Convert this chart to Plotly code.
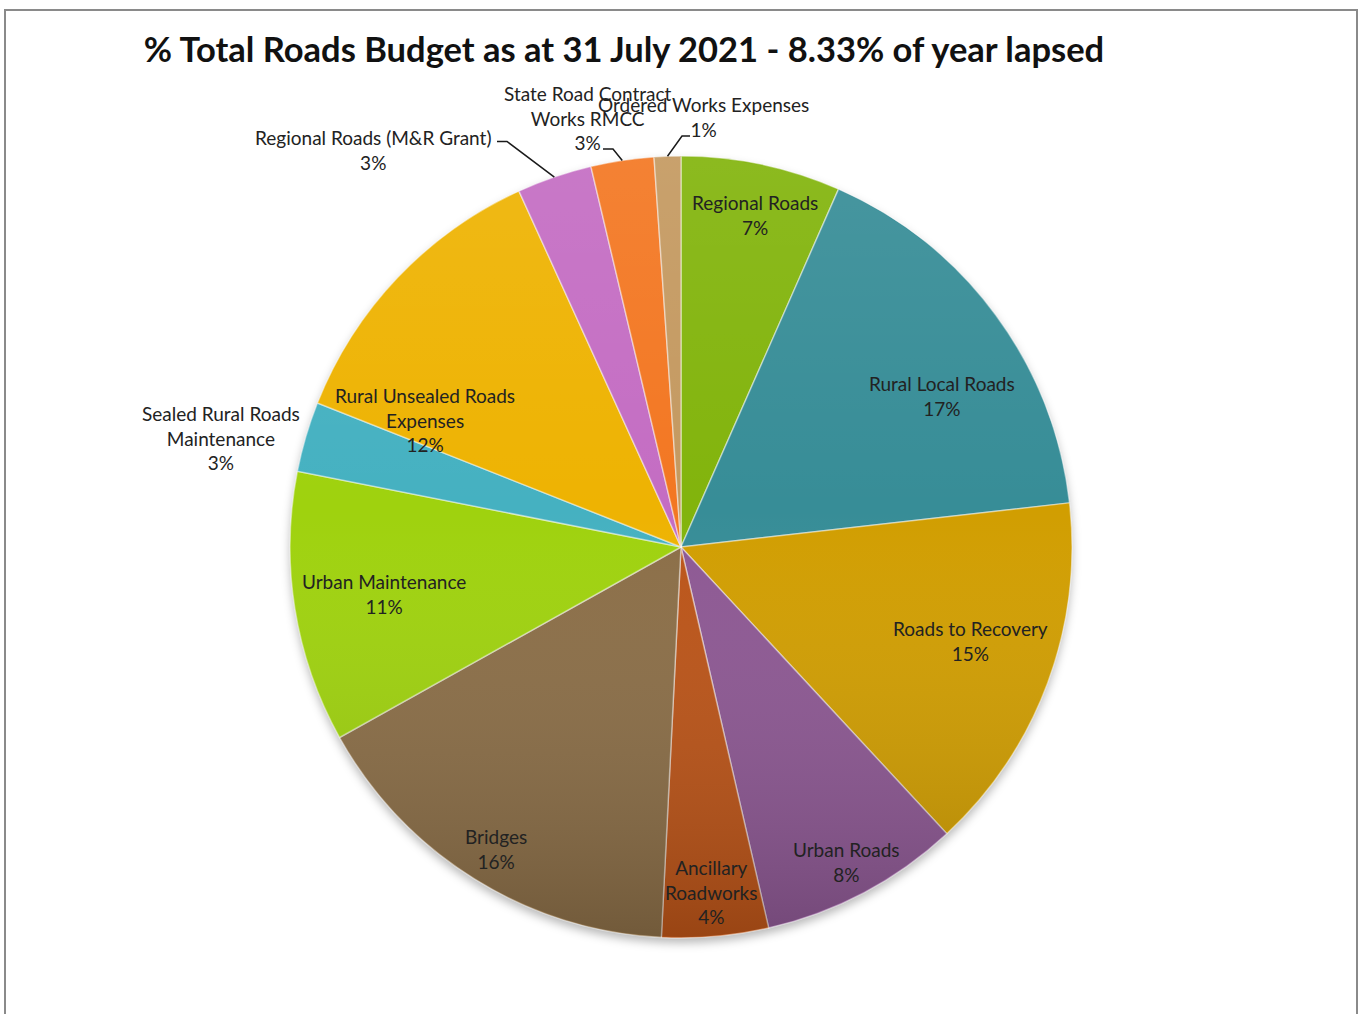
import base64
import math
import plotly.graph_objects as go

# ---- data -------------------------------------------------------------
categories = [
    "Regional Roads", "Rural Local Roads", "Roads to Recovery", "Urban Roads",
    "Ancillary Roadworks", "Bridges", "Urban Maintenance",
    "Sealed Rural Roads Maintenance", "Rural Unsealed Roads Expenses",
    "Regional Roads (M&R Grant)", "State Road Contract Works RMCC",
    "Ordered Works Expenses",
]
shares = [6.6, 16.6, 14.9, 8.3, 4.4, 16.1, 11.2, 2.9, 12.2, 3.1, 2.6, 1.1]
colors = [
    "#82b40c", "#378d97", "#d19e01", "#8d5893", "#bb5418", "#8b6e47",
    "#9fd20e", "#45b1c1", "#eeb302", "#c46dc3", "#f37722", "#c49960",
]

# line breaks used when printing the category names
wrapped = {
    "Ancillary Roadworks": "Ancillary<br>Roadworks",
    "Sealed Rural Roads Maintenance": "Sealed Rural Roads<br>Maintenance",
    "Rural Unsealed Roads Expenses": "Rural Unsealed Roads<br>Expenses",
    "State Road Contract Works RMCC": "State Road Contract<br>Works RMCC",
}

TITLE = "% Total Roads Budget as at 31 July 2021 - 8.33% of year lapsed"

# ---- geometry ---------------------------------------------------------
W, H = 1362, 1014
CX, CY, R = 681, 547, 391          # pie centre / radius in pixels
FONT = "Lato"

def px(x):
    return x / W

def py(y):
    return 1 - y / H

# label placement: (radius as a fraction of R, angular nudge in degrees)
label_place = [
    (0.87, 0.7), (0.77, 6.3), (0.78, -2.3), (0.91, 0.2),
    (0.886, 0.0), (0.906, -0.4), (0.77, 0.0), (1.21, -3.0),
    (0.73, -17.1), (1.286, -18.9), (1.123, -3.6), (1.10, 5.0),
]

total = sum(shares)
mid_angles = []
acc = 0.0
for v in shares:
    mid_angles.append((acc + v / 2) / total * 360.0)
    acc += v

def polar(angle_deg, r):
    a = math.radians(angle_deg)
    return CX + r * math.sin(a), CY - r * math.cos(a)

fig = go.Figure()

fig.add_trace(go.Pie(
    labels=categories,
    values=shares,
    sort=False,
    direction="clockwise",
    rotation=0,
    textinfo="none",
    hoverinfo="label+percent",
    marker=dict(colors=colors, line=dict(color="rgba(255,255,255,0.45)", width=1.5)),
    domain=dict(x=[px(CX - R), px(CX + R)], y=[py(CY + R), py(CY - R)]),
    showlegend=False,
))

# ---- shading overlays (soft drop shadow + top-to-bottom gradient) -----
D = 2 * R
shade_svg = (
    f"<svg xmlns='http://www.w3.org/2000/svg' width='{D}' height='{D}' viewBox='0 0 {D} {D}'>"
    "<defs><linearGradient id='g' x1='0' y1='0' x2='0' y2='1'>"
    "<stop offset='0' stop-color='#ffffff' stop-opacity='0.08'/>"
    "<stop offset='0.45' stop-color='#ffffff' stop-opacity='0'/>"
    "<stop offset='1' stop-color='#000000' stop-opacity='0.18'/>"
    "</linearGradient></defs>"
    f"<circle cx='{R}' cy='{R}' r='{R - 1}' fill='url(#g)'/></svg>"
)
PAD = 20
S = D + 2 * PAD
shadow_svg = (
    f"<svg xmlns='http://www.w3.org/2000/svg' width='{S}' height='{S}' viewBox='0 0 {S} {S}'>"
    "<defs><filter id='b' x='-10%' y='-10%' width='120%' height='120%'>"
    "<feGaussianBlur stdDeviation='5'/></filter></defs>"
    f"<circle cx='{PAD + R}' cy='{PAD + R + 5}' r='{R}' fill='#000' fill-opacity='0.28' filter='url(#b)'/></svg>"
)

def data_uri(svg):
    return "data:image/svg+xml;base64," + base64.b64encode(svg.encode()).decode()

fig.add_layout_image(dict(
    source=data_uri(shadow_svg), xref="paper", yref="paper",
    x=px(CX - R - PAD), y=py(CY - R - PAD), sizex=S / W, sizey=S / H,
    xanchor="left", yanchor="top", sizing="stretch", layer="below",
))
fig.add_layout_image(dict(
    source=data_uri(shade_svg), xref="paper", yref="paper",
    x=px(CX - R), y=py(CY - R), sizex=D / W, sizey=D / H,
    xanchor="left", yanchor="top", sizing="stretch", layer="above",
))

# ---- data labels --------------------------------------------------------
for name, v, ang, (rf, nudge) in zip(categories, shares, mid_angles, label_place):
    x, y = polar(ang + nudge, rf * R)
    text = f"{wrapped.get(name, name)}<br>{v / total:.0%}"
    fig.add_annotation(
        x=px(x), y=py(y), xref="paper", yref="paper",
        text=text, showarrow=False, xanchor="center", yanchor="middle",
        font=dict(family=FONT, size=19, color="#222222"),
    )

# leader lines for the thin slices at the top (edge point -> elbow -> label)
leaders = {
    "Regional Roads (M&R Grant)": [(507, 141.5), (497, 141.5)],
    "State Road Contract Works RMCC": [(613, 149), (603, 149)],
    "Ordered Works Expenses": [(682, 136), (690, 136)],
}
for name, pts in leaders.items():
    i = categories.index(name)
    ex, ey = polar(mid_angles[i], R)
    path_pts = [(ex, ey)] + pts
    path = "M " + " L ".join(f"{px(a):.5f},{py(b):.5f}" for a, b in path_pts)
    fig.add_shape(type="path", path=path, xref="paper", yref="paper",
                  line=dict(color="#1a1a1a", width=1.5))

# chart frame
fig.add_shape(type="rect", xref="paper", yref="paper",
              x0=px(5), x1=px(1357), y0=-0.05, y1=py(10),
              line=dict(color="#8a8a8a", width=2), fillcolor="rgba(0,0,0,0)")

fig.update_layout(
    width=W, height=H,
    margin=dict(l=0, r=0, t=0, b=0),
    paper_bgcolor="white",
    plot_bgcolor="white",
    title=dict(
        text=f"<b>{TITLE}</b>",
        x=px(624), xref="paper", xanchor="center",
        y=py(50), yref="container", yanchor="middle",
        font=dict(family=FONT, size=34.5, color="#111111"),
    ),
)

fig.write_html("out.html")
